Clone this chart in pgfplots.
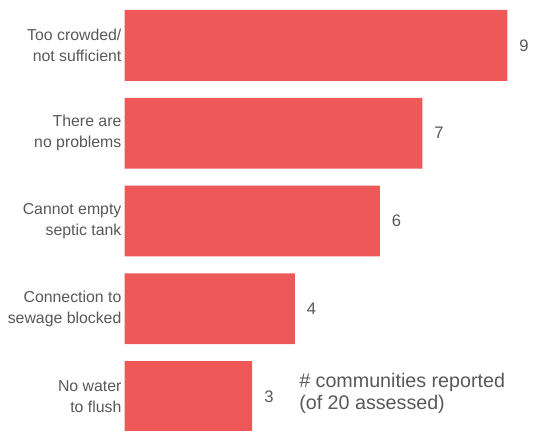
\documentclass[border=0pt]{standalone}
\usepackage{pgfplots}
\pgfplotsset{compat=1.18}
\usepackage{fontspec}
\setmainfont{Liberation Sans}
\definecolor{barred}{HTML}{EE5859}
\definecolor{txtgray}{HTML}{58585A}
\begin{document}
\begin{tikzpicture}
\begin{axis}[
  scale only axis,
  width=399.75pt, height=323.25pt,
  xmin=-2.934, xmax=9.577,
  ymin=-0.517, ymax=4.381,
  y dir=reverse,
  hide axis,
  clip=true,
  xbar, bar width=0.807, bar shift=0pt,
  /pgf/number format/assume math mode=true,
  nodes near coords,
  every node near coord/.append style={font=\fontsize{12.5}{14}\selectfont, text=txtgray, anchor=west, xshift=5.5pt},
]
\addplot[fill=barred, draw=none] coordinates {(9,0) (7,1) (6,2) (4,3) (3,4)};
\path (rel axis cs:0,0) rectangle (rel axis cs:1,1);
\begin{scope}[every node/.style={font=\fontsize{11.9}{15.75}\selectfont, text=txtgray, align=right, anchor=east, xshift=1pt}]
\node at (axis cs:0,0) {Too crowded/\\not sufficient};
\node at (axis cs:0,1) {There are\\no problems};
\node at (axis cs:0,2) {Cannot empty\\septic tank};
\node at (axis cs:0,3) {Connection to\\sewage blocked};
\node at (axis cs:0,4) {No water\\to flush};
\end{scope}
\node[font=\fontsize{14.8}{16.5}\selectfont, text=txtgray, align=left, anchor=west, inner sep=0pt] at (axis cs:4.1,3.96) {\# communities reported\\(of 20 assessed)};
\end{axis}
\end{tikzpicture}
\end{document}
